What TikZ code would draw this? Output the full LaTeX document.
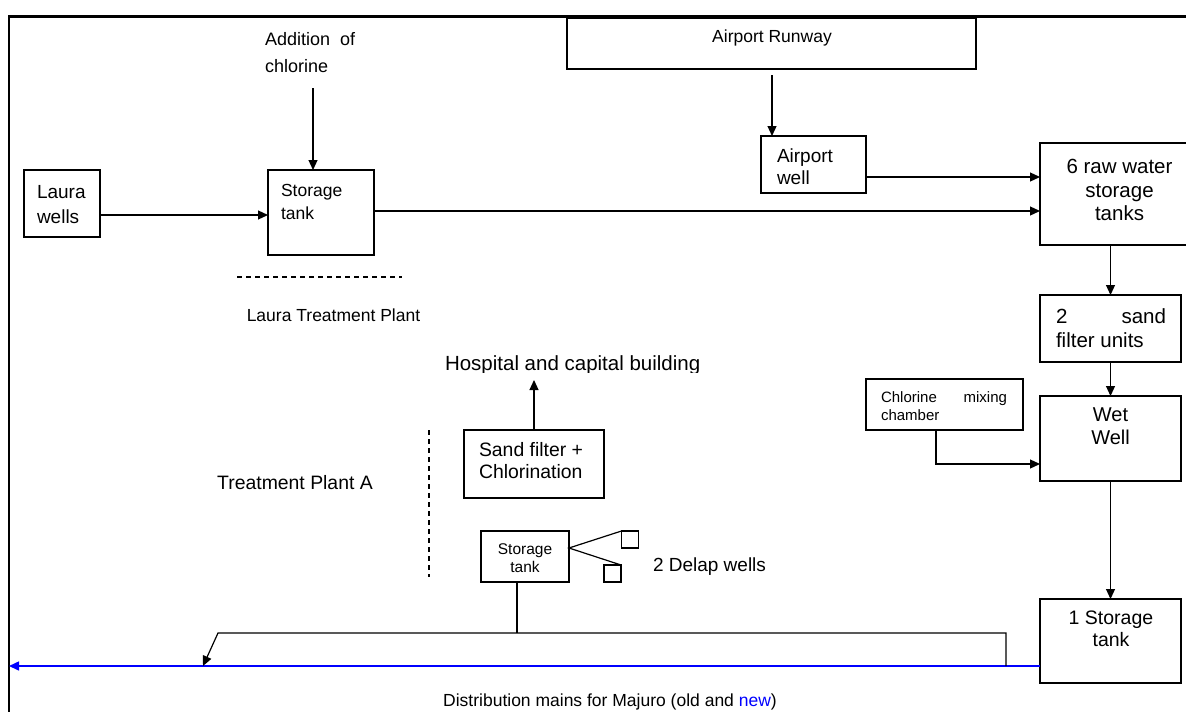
\documentclass[tikz,border=0pt]{standalone}
\usepackage{fontspec}
\setmainfont{Liberation Sans}
\usetikzlibrary{arrows.meta,calc}
\newcommand\myfs[2]{\fontsize{#1}{#2}\selectfont}
\begin{document}
\begin{tikzpicture}[x=1pt,y=-1pt,
  box/.style={draw,line width=1.2pt,inner sep=0pt,outer sep=0pt},
  arr/.style={line width=1.2pt,-{Triangle[length=10pt,width=9pt]}},
  ln/.style={line width=1.2pt},
  txt/.style={inner sep=0pt,outer sep=0pt},
  sep/.style={line width=1.2pt,dash pattern=on 5pt off 4pt}]
\useasboundingbox (0,0) rectangle (1186,712);
\fill[white] (0,0) rectangle (1186,712);
% frame
\draw[line width=3pt] (8,16.5) -- (1186,16.5);
\draw[line width=2pt] (9,15) -- (9,712);
% boxes
\node[box,minimum width=76,minimum height=67] (lw) at (62,203.5) {};
\node[box,minimum width=106,minimum height=85] (st1) at (321,212.5) {};
\node[box,minimum width=409,minimum height=51] (rw) at (771.5,43.5) {};
\node[box,minimum width=105,minimum height=57] (aw) at (813.5,164.5) {};
\node[box,minimum width=158,minimum height=102] (raw) at (1119,194) {};
\node[box,minimum width=141,minimum height=67] (sf) at (1110.5,328.5) {};
\node[box,minimum width=157,minimum height=51] (cm) at (944.5,404.5) {};
\node[box,minimum width=141,minimum height=85] (ww) at (1110.5,438.5) {};
\node[box,minimum width=141,minimum height=84] (st3) at (1110.5,641) {};
\node[box,minimum width=140,minimum height=68] (sfc) at (534,464) {};
\node[box,minimum width=88,minimum height=51] (st2) at (525,556.5) {};
\node[box,minimum width=17,minimum height=17] (sq1) at (630,539.5) {};
\node[box,minimum width=17,minimum height=17] (sq2) at (612.5,573.5) {};
% texts
\node[txt,anchor=west,align=left,font=\myfs{18}{27}] (add) at (265,52.5) {Addition\ \ of\\chlorine};
\node[txt,anchor=west,align=left,font=\myfs{19}{25}] (lwt) at (37,204.5) {Laura\\wells};
\node[txt,anchor=west,align=left,font=\myfs{17.5}{23}] (st1t) at (281,201.5) {Storage\\tank};
\node[txt,font=\myfs{17.5}{20}] (ltp) at (333.5,315) {Laura Treatment Plant};
\node[txt,font=\myfs{17.5}{20}] (rwt) at (772,38) {Airport Runway};
\node[txt,anchor=west,align=left,font=\myfs{19}{22}] (awt) at (777,167) {Airport\\well};
\node[txt,align=center,font=\myfs{20.5}{23.5}] (rawt) at (1119.5,190) {6 raw water\\storage\\tanks};
\node[txt,anchor=west,align=left,font=\myfs{20.5}{24}] (sft) at (1056,328.5) {\makebox[110pt][s]{2 sand}\\filter units};
\node[txt,anchor=west,align=left,font=\myfs{15}{18}] (cmt) at (881,406) {\makebox[126pt][s]{Chlorine mixing}\\chamber};
\node[txt,align=center,font=\myfs{20}{23}] (wwt) at (1110.5,426.5) {Wet\\Well};
\node[txt,align=center,font=\myfs{19.5}{22}] (st3t) at (1111,629) {1 Storage\\tank};
\begin{scope}
\clip (430,340) rectangle (730,372);
\node[txt,anchor=west,font=\myfs{20.5}{24}] (hosp) at (445,365) {Hospital and capital building};
\end{scope}
\node[txt,anchor=west,align=left,font=\myfs{19.4}{22}] (sfct) at (479,461) {Sand filter +\\Chlorination};
\node[txt,font=\myfs{19.4}{22}] (tpa) at (295,483) {Treatment Plant A};
\node[txt,align=center,font=\myfs{15.5}{18}] (st2t) at (525,558) {Storage\\tank};
\node[txt,anchor=west,font=\myfs{19}{22}] (delap) at (653,567) {2 Delap wells};
\node[txt,font=\myfs{17.5}{20}] (dist) at (610,702) {Distribution mains for Majuro (old and {\color{blue}new})};
% helper coordinates
\coordinate (y215) at (0,215);
\coordinate (y211) at (0,211);
\coordinate (y177) at (0,177);
\coordinate (y464) at (0,464);
\coordinate (y666) at (0,666);
\coordinate (y548) at (0,548);
\coordinate (x936) at (936,0);
\coordinate (x517) at (517,0);
\coordinate (addA) at (313,88);
\coordinate (rwA) at (772,75);
\coordinate (hospA) at (534,380);
\coordinate (distEnd) at (9,666);
\coordinate (j1) at (1006,666);
\coordinate (c1) at (1006,633);
\coordinate (c2) at (218,633);
\coordinate (tip) at (203,666);
% connectors
\draw[arr] (addA) -- (addA |- st1.north);
\draw[arr] (lw.east |- y215) -- (st1.west |- y215);
\draw[arr] (st1.east |- y211) -- (raw.west |- y211);
\draw[arr] (rwA) -- (rwA |- aw.north);
\draw[arr] (aw.east |- y177) -- (raw.west |- y177);
\draw[arr] (sf.north |- raw.south) -- (sf.north);
\draw[arr] (sf.south) -- (ww.north);
\draw[arr] (x936 |- cm.south) -- (x936 |- y464) -- (ww.west |- y464);
\draw[arr] (ww.south) -- (st3.north);
\draw[arr] (sfc.north) -- (hospA);
\draw[line width=1.5pt,blue,-{Triangle[length=10pt,width=9pt]}] (st3.west |- y666) -- (distEnd);
\draw[arr] (j1) -- (c1) -- (c2) -- (tip);
\draw[ln] (x517 |- st2.south) -- (x517 |- c1);
\draw[ln] (sq1.north west) -- (st2.east |- y548) -- (sq2.north east);
% separators
\draw[sep] (237,277) -- (402,277);
\draw[sep] (429,430) -- (429,577);
\end{tikzpicture}
\end{document}
